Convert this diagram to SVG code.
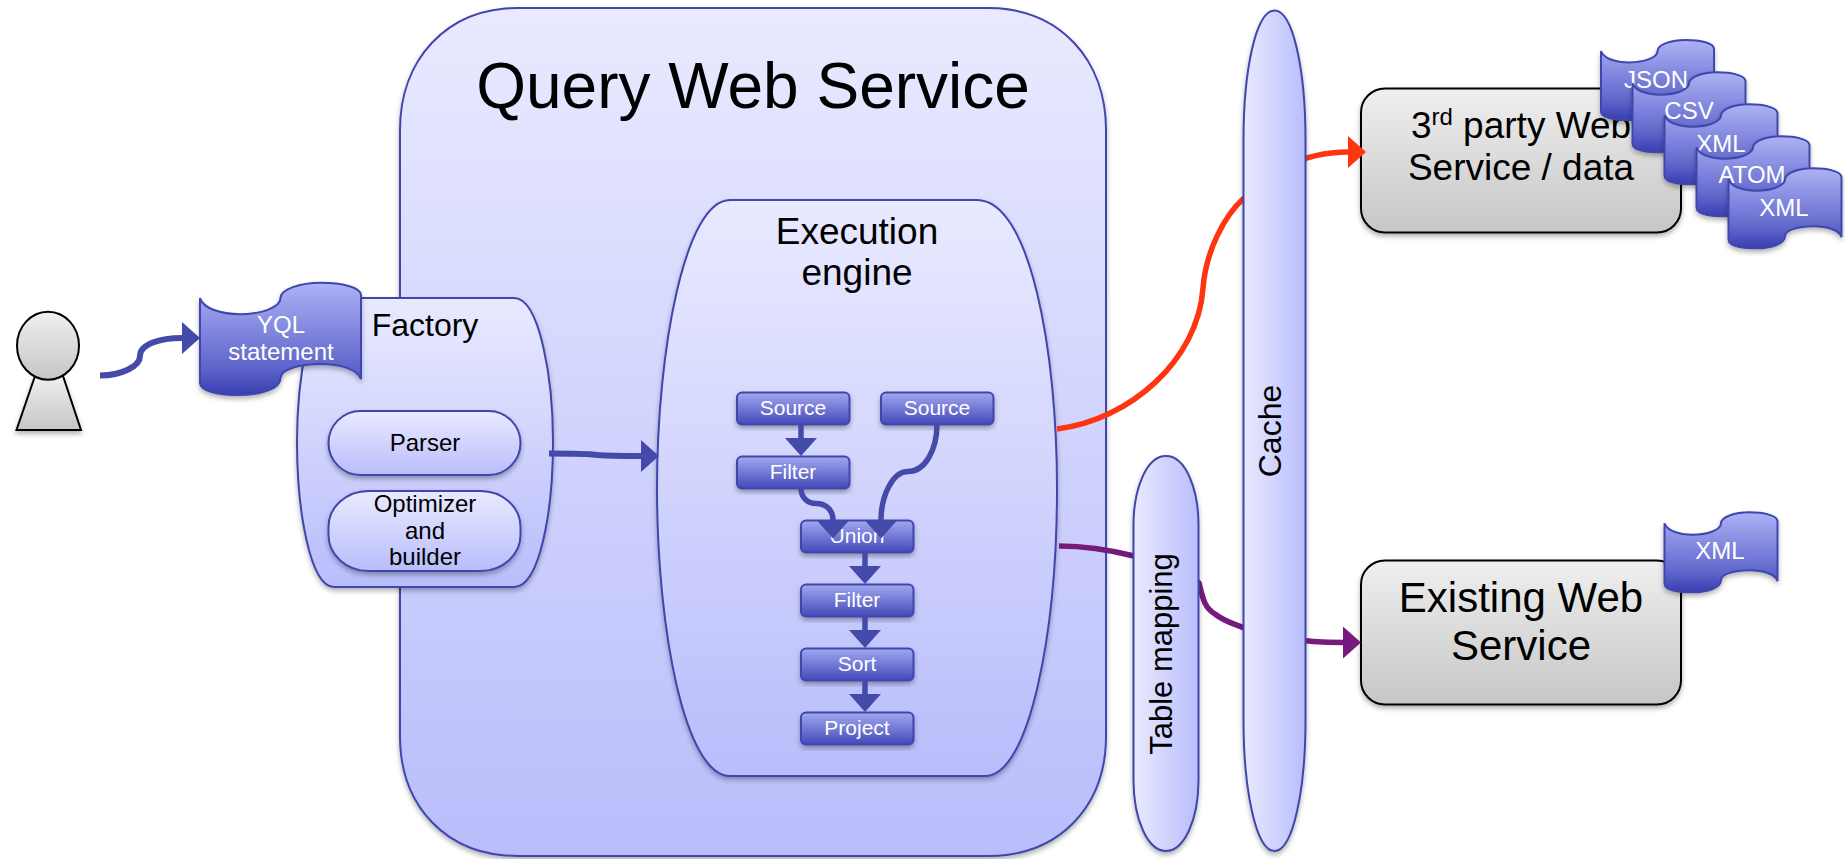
<svg xmlns="http://www.w3.org/2000/svg" xmlns:xlink="http://www.w3.org/1999/xlink" width="1845" height="859" viewBox="0 0 1845 859">
<defs>
<linearGradient id="gv" x1="0" y1="0" x2="0" y2="1"><stop offset="0" stop-color="#e9eaff"/><stop offset="1" stop-color="#b9bdfb"/></linearGradient>
<linearGradient id="gh" x1="0" y1="0" x2="1" y2="0"><stop offset="0" stop-color="#e9eaff"/><stop offset="1" stop-color="#b9bdfb"/></linearGradient>
<linearGradient id="gd" x1="0" y1="0" x2="0" y2="1"><stop offset="0" stop-color="#aeb2f6"/><stop offset=".75" stop-color="#5f66cb"/><stop offset="1" stop-color="#373eb0"/></linearGradient>
<linearGradient id="gb" x1="0" y1="0" x2="0" y2="1"><stop offset="0" stop-color="#a3a8f0"/><stop offset="1" stop-color="#434ab8"/></linearGradient>
<linearGradient id="gg" x1="0" y1="0" x2="0" y2="1"><stop offset="0" stop-color="#efefef"/><stop offset="1" stop-color="#c6c6c6"/></linearGradient>
<filter id="sh" x="-20%" y="-20%" width="140%" height="140%"><feDropShadow dx="0" dy="3" stdDeviation="2.5" flood-color="#000" flood-opacity=".3"/></filter>
<marker id="mb" markerUnits="userSpaceOnUse" markerWidth="18" markerHeight="32" viewBox="0 0 18 32" refX="0" refY="16" orient="auto"><path d="M0,0L18,16L0,32Z" fill="#434aaa"/></marker>
<marker id="mr" markerUnits="userSpaceOnUse" markerWidth="18" markerHeight="32" viewBox="0 0 18 32" refX="0" refY="16" orient="auto"><path d="M0,0L18,16L0,32Z" fill="#ff3510"/></marker>
<marker id="mp" markerUnits="userSpaceOnUse" markerWidth="18" markerHeight="32" viewBox="0 0 18 32" refX="0" refY="16" orient="auto"><path d="M0,0L18,16L0,32Z" fill="#761a7e"/></marker>
<path id="doc" vector-effect="non-scaling-stroke" d="M0,.137C.02,.23 .13,.28 .25,.28C.38,.28 .5,.22 .5,.137C.5,.06 .62,0 .75,0C.88,0 1,.04 1,.11L1,.86C.98,.77 .87,.725 .75,.725C.62,.725 .5,.77 .5,.85C.5,.94 .38,1 .25,1C.12,1 0,.97 0,.89Z"/>
</defs>
<style>
text{font-family:"Liberation Sans",Arial,sans-serif;text-anchor:middle;fill:#000}
.pale{fill:url(#gv);stroke:#3f46ac;stroke-width:2;filter:url(#sh)}
.paleh{fill:url(#gh);stroke:#3f46ac;stroke-width:2;filter:url(#sh)}
.gray{fill:url(#gg);stroke:#000;stroke-width:2;filter:url(#sh)}
.step{fill:url(#gb);stroke:#3f46ac;stroke-width:2;filter:url(#sh)}
.d{fill:url(#gd);stroke:#3f46ac;stroke-width:2}
.ds{filter:url(#sh)}
.w{fill:#fff}
.s21{font-size:21px}
.s24{font-size:24px}
.c{fill:none}
.cb{stroke:#434aaa;stroke-width:6;marker-end:url(#mb)}
.cs{stroke:#434aaa;stroke-width:5.5;marker-end:url(#mb)}
</style>

<g id="query-web-service">
<path class="pale" d="M518,8L988,8C1060,8 1106,60 1106,130L1106,736C1106,806 1060,856 988,856L518,856C446,856 400,806 400,736L400,130C400,60 446,8 518,8Z"/>
<text x="753" y="108" font-size="64">Query Web Service</text>
</g>

<g id="execution-engine">
<path class="pale" d="M730,200L977,200C1030,200 1057,350 1057,488C1057,630 1030,776 985,776L730,776C685,776 657,630 657,488C657,350 685,200 730,200Z"/>
<text x="857" y="244" font-size="37">Execution</text>
<text x="857" y="285" font-size="37">engine</text>
</g>

<g id="factory">
<path class="pale" d="M334,298L514,298C540,298 553,380 553,442C553,510 540,587 514,587L334,587C310,587 297,510 297,442C297,380 310,298 334,298Z"/>
<text x="425" y="336" font-size="32">Factory</text>
</g>
<g id="parser">
<rect class="pale" x="328.500" y="411" width="192" height="64" rx="32" ry="32"/>
<text x="425" y="451" class="s24">Parser</text>
</g>
<g id="optimizer">
<rect class="pale" x="328.500" y="491" width="192" height="80" rx="40" ry="36"/>
<text x="425" y="512" class="s24">Optimizer</text>
<text x="425" y="539" class="s24">and</text>
<text x="425" y="565" class="s24">builder</text>
</g>

<g id="source-1"><rect class="step" x="737" y="392.500" width="112.500" height="32" rx="5"/><text class="w s21" x="793" y="415">Source</text></g>
<g id="source-2"><rect class="step" x="881" y="392.500" width="112.500" height="32" rx="5"/><text class="w s21" x="937" y="415">Source</text></g>
<g id="filter-1"><rect class="step" x="737" y="456.500" width="112.500" height="32" rx="5"/><text class="w s21" x="793" y="479">Filter</text></g>
<g id="union"><rect class="step" x="801" y="520.500" width="112.500" height="32" rx="5"/><text class="w s21" x="857" y="543">Union</text></g>
<g id="filter-2"><rect class="step" x="801" y="584.500" width="112.500" height="32" rx="5"/><text class="w s21" x="857" y="607">Filter</text></g>
<g id="sort"><rect class="step" x="801" y="648.500" width="112.500" height="32" rx="5"/><text class="w s21" x="857" y="671">Sort</text></g>
<g id="project"><rect class="step" x="801" y="712.500" width="112.500" height="32" rx="5"/><text class="w s21" x="857" y="735">Project</text></g>

<g id="third-party">
<rect class="gray" x="1361" y="88.500" width="320" height="144" rx="24"/>
<text x="1521" y="138" font-size="37">3<tspan font-size="24" dy="-13">rd</tspan><tspan dy="13"> party Web</tspan></text>
<text x="1521" y="180" font-size="37">Service / data</text>
</g>
<g id="existing-web-service">
<rect class="gray" x="1361" y="560.500" width="320" height="144" rx="24"/>
<text x="1521" y="612" font-size="42">Existing Web</text>
<text x="1521" y="660" font-size="42">Service</text>
</g>

<g id="connectors" class="c">
<path class="cb" d="M100,375.500C122,375.500 140,366 140,356C140,344 160,338 182,338"/>
<path class="cb" d="M549,453.500C570,453.500 585,453.500 598,455C610,456 625,456 641,456"/>
<path class="cs" d="M801,424L801,438"/>
<path class="cs" d="M801,488C801,498 808,503.500 816,503.500C826,503.500 833,510 833,520.500"/>
<path class="cs" d="M937,424C937,450 925,471.500 908,471.500C893,471.500 881,495 881,520.500"/>
<path class="cs" d="M865,552L865,566"/>
<path class="cs" d="M865,616L865,630"/>
<path class="cs" d="M865,680L865,694"/>
<path stroke="#ff3510" stroke-width="5.500" marker-end="url(#mr)" d="M1057,429C1130,420 1198,360 1203,288C1206,250 1225,215 1244,198C1265,175 1300,152 1348,152"/>
<path stroke="#761a7e" stroke-width="5.500" marker-end="url(#mp)" d="M1059,546C1085,546 1110,550 1134,556C1160,563 1190,570 1199,583C1203,600 1205,608 1215,614C1225,622 1235,624 1244,628C1265,636 1300,642.500 1343,642.500"/>
</g>

<g id="table-mapping">
<path class="paleh" d="M1166,456C1186,456 1198.500,490 1198.500,525L1198.500,780C1198.500,820 1184,851 1166,851C1148,851 1133.500,820 1133.500,780L1133.500,525C1133.500,490 1146,456 1166,456Z"/>
<text transform="translate(1172,654) rotate(-90)" font-size="31">Table mapping</text>
</g>
<g id="cache">
<path class="paleh" d="M1274.500,10.500C1293,10.500 1305.500,70 1305.500,140L1305.500,720C1305.500,790 1293,851 1274.500,851C1256,851 1243.500,790 1243.500,720L1243.500,140C1243.500,70 1256,10.500 1274.500,10.500Z"/>
<text transform="translate(1281,431) rotate(-90)" font-size="32">Cache</text>
</g>

<g id="person">
<path class="gray" d="M63,376L81,430L16.500,430L35,376Z"/>
<ellipse cx="48" cy="345.700" rx="31" ry="34" fill="url(#gg)" stroke="#000" stroke-width="2"/>
</g>

<g id="yql-statement"><g class="ds"><use xlink:href="#doc" href="#doc" class="d" transform="translate(200,282.700) scale(161,112.300)"/></g><text class="w s24" x="281" y="333">YQL</text><text class="w s24" x="281" y="360">statement</text></g>
<g id="doc-json"><g class="ds"><use xlink:href="#doc" href="#doc" class="d" transform="translate(1601,40) scale(113,80)"/></g><text class="w s24" x="1656" y="88">JSON</text></g>
<g id="doc-csv"><g class="ds"><use xlink:href="#doc" href="#doc" class="d" transform="translate(1632.500,72.300) scale(113,80)"/></g><text class="w s24" x="1689" y="119">CSV</text></g>
<g id="doc-xml-1"><g class="ds"><use xlink:href="#doc" href="#doc" class="d" transform="translate(1664.500,104.300) scale(113,80)"/></g><text class="w s24" x="1721" y="152">XML</text></g>
<g id="doc-atom"><g class="ds"><use xlink:href="#doc" href="#doc" class="d" transform="translate(1696.500,136.300) scale(113,80)"/></g><text class="w s24" x="1752" y="183">ATOM</text></g>
<g id="doc-xml-2"><g class="ds"><use xlink:href="#doc" href="#doc" class="d" transform="translate(1728.500,168.300) scale(113,80)"/></g><text class="w s24" x="1784" y="216">XML</text></g>
<g id="doc-xml-3"><g class="ds"><use xlink:href="#doc" href="#doc" class="d" transform="translate(1664.500,512.300) scale(113,80)"/></g><text class="w s24" x="1720" y="559">XML</text></g>
</svg>
